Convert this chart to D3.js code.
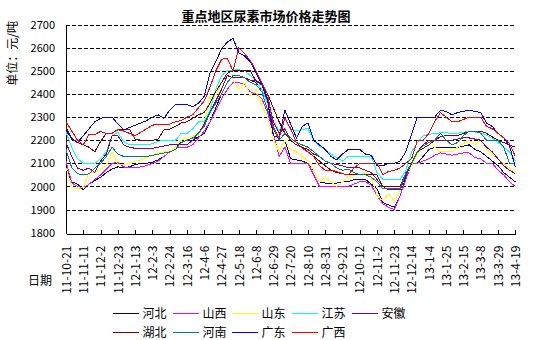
<!DOCTYPE html>
<html>
<head>
<meta charset="utf-8">
<script src="https://cdn.jsdelivr.net/npm/d3@7"></script>
<style>
  html, body { margin: 0; padding: 0; background: #fff; }
  svg { display: block; }
  text { font-family: "Noto Sans CJK SC", "Noto Sans", sans-serif; fill: #000; }
</style>
</head>
<body>
<svg id="chart" width="545" height="340"></svg>
<script>
// weekly quotation dates
const dates = [
  "11-10-21","11-10-28","11-11-4","11-11-11","11-11-18","11-11-25","11-12-2","11-12-9","11-12-16","11-12-23",
  "11-12-30","12-1-6","12-1-13","12-1-20","12-1-27","12-2-3","12-2-10","12-2-17","12-2-24","12-3-2",
  "12-3-9","12-3-16","12-3-23","12-3-30","12-4-6","12-4-13","12-4-20","12-4-27","12-5-4","12-5-11",
  "12-5-18","12-5-25","12-6-1","12-6-8","12-6-15","12-6-22","12-6-29","12-7-6","12-7-13","12-7-20",
  "12-7-27","12-8-3","12-8-10","12-8-17","12-8-24","12-8-31","12-9-7","12-9-14","12-9-21","12-9-28",
  "12-10-5","12-10-12","12-10-19","12-10-26","12-11-2","12-11-9","12-11-16","12-11-23","12-11-30","12-12-7",
  "12-12-14","12-12-21","12-12-28","13-1-4","13-1-11","13-1-18","13-1-25","13-2-1","13-2-8","13-2-15",
  "13-2-22","13-3-1","13-3-8","13-3-15","13-3-22","13-3-29","13-4-5","13-4-12","13-4-19"
];
// every third week carries a label
const labelDates = dates.filter((d, i) => i % 3 === 0);
const yTicks = [1800, 1900, 2000, 2100, 2200, 2300, 2400, 2500, 2600, 2700];

// prices, yuan per tonne
const hebei = [
  2080,2020,2010,1985,2010,2025,2040,2060,2075,2085,
  2080,2085,2095,2100,2100,2105,2115,2130,2150,2170,
  2190,2200,2200,2215,2230,2280,2340,2400,2450,2480,
  2480,2470,2460,2450,2420,2360,2250,2200,2200,2120,
  2115,2110,2100,2070,2020,2015,2015,2015,2020,2020,
  2030,2030,2030,2010,1990,1930,1920,1910,1960,2040,
  2100,2100,2130,2160,2170,2170,2170,2170,2170,2175,
  2180,2160,2150,2130,2110,2090,2060,2040,2020
];
const shanxi = [
  2110,2015,2000,1995,2010,2030,2050,2075,2100,2104,
  2085,2080,2080,2085,2090,2100,2110,2130,2150,2170,
  2170,2170,2180,2210,2240,2280,2330,2380,2420,2450,
  2450,2440,2410,2400,2380,2320,2230,2130,2170,2100,
  2100,2100,2100,2050,2000,2000,2000,2000,2000,2000,
  2010,2020,2020,2005,1960,1925,1910,1900,1960,2030,
  2100,2100,2110,2120,2135,2145,2140,2135,2140,2145,
  2145,2125,2120,2100,2100,2070,2050,2020,2000
];
const shandong = [
  2080,2000,1990,1995,2060,2060,2075,2090,2150,2095,
  2095,2100,2110,2115,2125,2135,2145,2150,2150,2170,
  2200,2210,2220,2220,2280,2390,2390,2450,2490,2460,
  2420,2450,2390,2420,2350,2300,2200,2150,2200,2160,
  2150,2130,2110,2070,2020,2040,2020,2000,2020,2040,
  2050,2050,2060,2040,1960,1940,1970,1935,1985,2050,
  2090,2140,2180,2200,2170,2150,2150,2150,2170,2185,
  2200,2180,2200,2160,2140,2120,2100,2080,2060
];
const jiangsu = [
  2235,2170,2120,2100,2100,2100,2120,2150,2220,2235,
  2195,2180,2180,2180,2180,2185,2195,2200,2200,2200,
  2230,2230,2250,2280,2280,2330,2420,2480,2500,2505,
  2505,2500,2480,2455,2420,2360,2280,2240,2290,2250,
  2240,2245,2252,2200,2175,2160,2140,2125,2110,2130,
  2130,2130,2130,2130,2060,2030,2030,2030,2030,2070,
  2150,2190,2220,2225,2230,2232,2232,2230,2230,2235,
  2237,2236,2232,2222,2210,2190,2170,2150,2110
];
const anhui = [
  2190,2130,2080,2070,2080,2060,2110,2140,2220,2220,
  2180,2170,2165,2165,2165,2165,2170,2175,2180,2180,
  2180,2180,2200,2230,2270,2320,2370,2420,2480,2470,
  2470,2470,2460,2460,2440,2380,2280,2230,2250,2200,
  2180,2170,2160,2140,2130,2110,2100,2095,2090,2080,
  2080,2080,2070,2060,2030,2000,1985,1985,1985,2050,
  2100,2150,2180,2200,2200,2200,2200,2200,2205,2210,
  2210,2205,2200,2170,2150,2120,2090,2070,2055
];
const hubei = [
  2255,2205,2190,2180,2170,2150,2195,2230,2230,2248,
  2248,2248,2205,2200,2200,2200,2205,2245,2248,2260,
  2275,2280,2295,2310,2320,2360,2410,2450,2490,2500,
  2500,2500,2500,2455,2440,2400,2340,2280,2230,2200,
  2180,2170,2150,2130,2110,2090,2070,2060,2055,2050,
  2050,2050,2050,2050,2050,2000,2000,2000,2000,2060,
  2100,2150,2165,2180,2200,2215,2220,2220,2220,2230,
  2237,2240,2240,2230,2215,2200,2190,2180,2170
];
const henan = [
  2160,2080,2055,2050,2055,2080,2100,2130,2170,2140,
  2130,2130,2130,2130,2130,2135,2140,2145,2150,2160,
  2190,2200,2210,2230,2260,2320,2360,2400,2450,2480,
  2480,2470,2450,2440,2410,2330,2250,2200,2230,2210,
  2190,2180,2170,2150,2130,2110,2100,2080,2070,2075,
  2060,2050,2050,2040,2020,1990,1990,1990,1990,2060,
  2100,2150,2175,2190,2200,2230,2200,2180,2190,2220,
  2240,2240,2230,2200,2200,2200,2170,2100,2100
];
const guangdong = [
  2240,2210,2190,2220,2250,2280,2295,2300,2300,2270,
  2245,2255,2265,2275,2285,2300,2310,2295,2330,2355,
  2355,2355,2345,2360,2390,2490,2540,2595,2625,2640,
  2578,2565,2540,2490,2440,2370,2220,2210,2330,2270,
  2210,2260,2275,2200,2180,2160,2130,2115,2140,2160,
  2160,2160,2140,2135,2090,2090,2100,2100,2110,2150,
  2225,2300,2300,2300,2300,2330,2325,2310,2320,2325,
  2330,2325,2320,2275,2260,2230,2210,2175,2085
];
const guangxi = [
  2280,2240,2200,2180,2225,2225,2238,2230,2230,2245,
  2240,2230,2220,2235,2250,2265,2270,2270,2270,2280,
  2285,2300,2310,2340,2370,2430,2500,2550,2555,2500,
  2600,2575,2545,2500,2450,2400,2260,2210,2295,2250,
  2190,2165,2150,2130,2090,2070,2070,2065,2055,2050,
  2080,2100,2100,2100,2100,2050,2065,2070,2080,2100,
  2120,2200,2200,2230,2280,2320,2300,2280,2280,2290,
  2300,2300,2300,2260,2250,2230,2210,2185,2130
];

const seriesNames  = ["河北", "山西", "山东", "江苏", "安徽", "湖北", "河南", "广东", "广西"];
const seriesValues = [hebei, shanxi, shandong, jiangsu, anhui, hubei, henan, guangdong, guangxi];
const seriesColors = ["#000080", "#FF00FF", "#FFFF00", "#00FFFF", "#800080", "#800000", "#008080", "#0000FF", "#FF0000"];
const series = seriesNames.map((name, i) => ({ name, values: seriesValues[i], color: seriesColors[i], index: i }));

const W = 545, H = 340;
const plot = { left: 66, right: 515.3, top: 24.7, bottom: 232.7 };

const x = d3.scalePoint().domain(dates).range([plot.left, plot.right]);
const y = d3.scaleLinear().domain([1800, 2700]).range([plot.bottom, plot.top]);

const svg = d3.select("#chart");
svg.append("rect").attr("width", W).attr("height", H).attr("fill", "#fff");

// title
svg.append("text")
  .attr("x", 266).attr("y", 20.5)
  .attr("text-anchor", "middle")
  .attr("font-size", 13).attr("font-weight", 700)
  .text("重点地区尿素市场价格走势图");

// unit label
svg.append("text")
  .attr("transform", "translate(13,21) rotate(-90)")
  .attr("text-anchor", "end")
  .attr("dy", "0.35em")
  .attr("font-size", 12)
  .text("单位：元/吨");

// dashed horizontal grid
svg.append("g")
  .selectAll("line")
  .data(yTicks.filter(v => v > 1800))
  .join("line")
  .attr("x1", plot.left).attr("x2", plot.right)
  .attr("y1", d => Math.round(y(d)) + 0.5).attr("y2", d => Math.round(y(d)) + 0.5)
  .attr("stroke", "#000").attr("stroke-width", 1)
  .attr("stroke-dasharray", "4,2")
  .attr("shape-rendering", "crispEdges");

// value axis
const gy = svg.append("g")
  .attr("transform", `translate(${plot.left},0)`)
  .call(d3.axisLeft(y).tickValues(yTicks).tickSize(0).tickPadding(11).tickFormat(d3.format("d")));
gy.attr("font-family", null).attr("font-size", 11);
gy.select(".domain").attr("stroke", "#000").attr("shape-rendering", "crispEdges");
gy.selectAll("text").attr("fill", "#000");

// date axis
const gx = svg.append("g")
  .attr("transform", `translate(0,${Math.round(plot.bottom) + 0.5})`)
  .call(d3.axisBottom(x).tickValues(labelDates).tickSizeInner(-4).tickSizeOuter(0));
gx.attr("font-family", null).attr("font-size", 12);
gx.select(".domain").attr("stroke", "#000").attr("shape-rendering", "crispEdges");
gx.selectAll(".tick line").attr("stroke", "#000").attr("shape-rendering", "crispEdges");
gx.selectAll(".tick text")
  .attr("fill", "#000")
  .attr("transform", "rotate(-90)")
  .attr("x", -12).attr("y", 0)
  .attr("dy", "0.35em")
  .attr("text-anchor", "end");

svg.append("text")
  .attr("x", 28).attr("y", 280.5)
  .attr("dy", "0.35em")
  .attr("font-size", 12)
  .text("日期");

// price lines
const line = d3.line()
  .x((d, i) => x(dates[i]))
  .y(d => y(d));

svg.append("g")
  .selectAll("path")
  .data(series)
  .join("path")
  .attr("d", s => line(s.values))
  .attr("fill", "none")
  .attr("stroke", s => s.color)
  .attr("stroke-width", 1)
  .attr("shape-rendering", "crispEdges");

// legend, two rows of five
const legendCols = [113, 173, 232, 292, 352];
const legendRows = [313, 332];
const legend = svg.append("g");
legend.selectAll("line")
  .data(series)
  .join("line")
  .attr("x1", s => legendCols[s.index % 5])
  .attr("x2", s => legendCols[s.index % 5] + 26)
  .attr("y1", s => legendRows[Math.floor(s.index / 5)] + 0.5)
  .attr("y2", s => legendRows[Math.floor(s.index / 5)] + 0.5)
  .style("stroke", s => s.color)
  .attr("stroke-width", 1);
legend.selectAll("text")
  .data(series)
  .join("text")
  .attr("x", s => legendCols[s.index % 5] + 29.5)
  .attr("y", s => legendRows[Math.floor(s.index / 5)] + 0.5)
  .attr("dy", "0.35em")
  .attr("font-size", 12)
  .text(s => s.name);
</script>
</body>
</html>
